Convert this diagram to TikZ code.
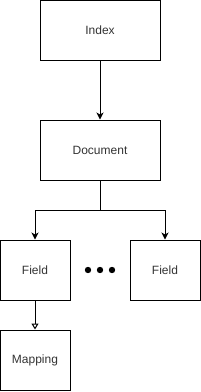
\documentclass[tikz,border=0pt]{standalone}
\usepackage{fontspec}
\setmainfont{Liberation Sans}
\usepackage{tikz}
\usetikzlibrary{arrows.meta, positioning, calc}
\definecolor{labelgray}{RGB}{51,51,51}

\begin{document}
\begin{tikzpicture}[
            x=1pt, y=1pt,
            node distance=59pt and 60pt,
            box/.style={rectangle, draw=black, line width=1pt, minimum width=120pt, minimum height=60pt, align=center, inner sep=0pt, font=\fontsize{12pt}{14pt}\selectfont, text=labelgray},
            smallbox/.style={box, minimum width=70pt},
            arrow/.style={-{Stealth[length=7pt, width=7pt, inset=2pt]}, line width=1pt},
            openarrow/.style={-{Triangle[open, length=6pt, width=7pt]}, line width=1pt}
        ]
            \useasboundingbox (0,0) rectangle (201,-392);

            \node[box] (index) at (100,-30) {Index};

            \node[box, below=of index] (document) {Document};

            \node[smallbox, below=of document, xshift=-65pt] (fieldA) {Field};
            \node[smallbox, below=of document, xshift=65pt] (fieldB) {Field};

            \node[smallbox, below=29pt of fieldA] (mapping) {Mapping};

            \coordinate (dots) at ($(fieldA)!0.5!(fieldB)$);
            \foreach \dx in {-12,0,12}
                \fill[black] ([xshift=\dx pt]dots) circle (3.2pt);

            \draw[arrow] (index) -- (document);
            \draw[arrow] (document.south) -- ++(0,-30) -| (fieldA.north);
            \draw[arrow] (document.south) -- ++(0,-30) -| (fieldB.north);
            \draw[openarrow] (fieldA) -- (mapping);
        \end{tikzpicture}
\end{document}
